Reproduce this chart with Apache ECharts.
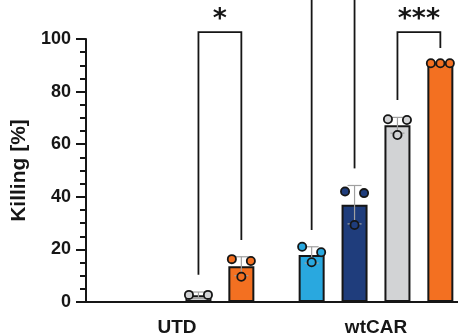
<!DOCTYPE html>
<html><head><meta charset="utf-8">
<script src="https://cdn.jsdelivr.net/npm/echarts@6/dist/echarts.min.js"></script>
<style>html,body{margin:0;padding:0;background:#fff}#c{width:458px;height:335px}</style>
</head><body><div id="c"></div>
<script>
// ---- data ----
const categories = ['UTD', 'wtCAR'];
const seriesNames = ['Group 1', 'Group 2', 'Group 3', 'Group 4'];
const yTicks = [0, 20, 40, 60, 80, 100];
// bar means (null = no bar)
const group1Mean = [null, 17.9];
const group2Mean = [null, 37.0];
const group3Mean = [2.6, 67.2];
const group4Mean = [13.6, 90.8];
// standard deviations
const group1SD = [null, 3.1];
const group2SD = [null, 7.3];
const group3SD = [1.2, 3.0];
const group4SD = [3.6, 0.3];
// replicate points (left, centre, right)
const group1Reps = [[], [21.0, 15.1, 18.9]];
const group2Reps = [[], [42.0, 29.3, 41.4]];
const group3Reps = [[2.7, null, 2.7], [69.5, 63.5, 69.2]];
const group4Reps = [[16.3, 9.6, 15.6], [90.8, 90.8, 90.8]];
// significance brackets: [category, left slot, right slot, top, left leg bottom, right leg bottom, label]
const brackets = [
  [0, 2, 3, 102.6, 10.4, 23.6, '*'],
  [1, 2, 3, 102.6, 76.8, 96.6, '***']
];
// open bracket legs going above the plot: [category, slot, bottom, top]
const openLegs = [
  [1, 0, 27.4, 130],
  [1, 1, 50.8, 130]
];

// ---- styles ----
const colors = ['#29a8df', '#1f3d7c', '#d2d3d5', '#f37021'];
const BAR_W = 26, BAR_GAP = 0.65;
const SLOT_STEP = BAR_W * (1 + BAR_GAP);
const JIT = 9.5, DOT_R = 4.1, CAP = 7;
const ERR_COLOR = '#a0a0a0';
const INK = '#161616';

const means = [group1Mean, group2Mean, group3Mean, group4Mean];
const sds = [group1SD, group2SD, group3SD, group4SD];
const reps = [group1Reps, group2Reps, group3Reps, group4Reps];

const chart = echarts.init(document.getElementById('c'), null, {renderer: 'canvas'});

function slotX(api, c, s) {
  return api.coord([c, 0])[0] + (s - 1.5) * SLOT_STEP;
}

function renderPoints(params, api) {
  const c = api.value(0), s = api.value(2);
  const cx = slotX(api, c, s);
  const mean = means[s][c], sd = sds[s][c];
  const yTop = api.coord([c, mean + sd])[1];
  const yBot = api.coord([c, Math.max(0, mean - sd)])[1];
  const ls = {stroke: ERR_COLOR, lineWidth: 1.2};
  const children = [
    {type: 'line', shape: {x1: cx, y1: yTop, x2: cx, y2: yBot}, style: ls},
    {type: 'line', shape: {x1: cx - CAP, y1: yTop, x2: cx + CAP, y2: yTop}, style: ls},
    {type: 'line', shape: {x1: cx - CAP, y1: yBot, x2: cx + CAP, y2: yBot}, style: ls}
  ];
  reps[s][c].forEach((v, i) => {
    if (v == null) return;
    const y = api.coord([c, v])[1];
    children.push({type: 'circle', shape: {cx: cx + (i - 1) * JIT, cy: y, r: DOT_R},
      style: {fill: colors[s], stroke: INK, lineWidth: 1.8}});
  });
  return {type: 'group', children};
}

function renderBrackets(params, api) {
  const b = brackets[api.value(2)];
  const c = b[0];
  const xl = slotX(api, c, b[1]), xr = slotX(api, c, b[2]);
  const yt = api.coord([c, b[3]])[1];
  const yl = api.coord([c, b[4]])[1], yr = api.coord([c, b[5]])[1];
  return {type: 'group', children: [
    {type: 'polyline', shape: {points: [[xl, yl], [xl, yt], [xr, yt], [xr, yr]]},
      style: {stroke: INK, lineWidth: 1.8, fill: null}},
    {type: 'text', style: {text: b[6], x: (xl + xr) / 2, y: yt - 12, align: 'center', verticalAlign: 'middle',
      font: 'bold 27px "DejaVu Sans"', fill: INK}}
  ]};
}

function renderLegs(params, api) {
  const l = openLegs[api.value(2)];
  const x = slotX(api, l[0], l[1]);
  return {type: 'line', shape: {x1: x, y1: api.coord([l[0], l[2]])[1], x2: x, y2: api.coord([l[0], l[3]])[1]},
    style: {stroke: INK, lineWidth: 1.8}};
}

const pointData = [];
means.forEach((m, s) => m.forEach((v, c) => { if (v != null) pointData.push([c, v, s]); }));

const series = means.map((m, s) => ({
  name: seriesNames[s], type: 'bar', data: m.map(v => v == null ? '-' : v),
  barWidth: BAR_W, barGap: (BAR_GAP * 100) + '%', z: 2, silent: true,
  itemStyle: {color: colors[s], borderColor: INK, borderWidth: 2}
}));
series.push({type: 'custom', renderItem: renderPoints, data: pointData, encode: {x: 0, y: 1}, z: 3, clip: false, silent: true});
series.push({type: 'custom', renderItem: renderBrackets, data: brackets.map((b, i) => [b[0], b[3], i]), encode: {x: 0, y: 1}, z: 4, clip: false, silent: true});
series.push({type: 'custom', renderItem: renderLegs, data: openLegs.map((l, i) => [l[0], l[2], i]), encode: {x: 0, y: 1}, z: 4, clip: false, silent: true});

chart.setOption({
  animation: false,
  grid: {left: 77.5, right: -17.5, top: 39, bottom: 33, containLabel: false, outerBoundsMode: 'none'},
  xAxis: {
    type: 'category', data: categories,
    axisLine: {lineStyle: {color: INK, width: 2}},
    axisTick: {alignWithLabel: true, length: 10, lineStyle: {color: INK, width: 2}},
    axisLabel: {margin: 16, color: INK, fontSize: 19, fontWeight: 'bold', fontFamily: 'Liberation Sans'}
  },
  yAxis: {
    type: 'value', min: yTicks[0], max: yTicks[yTicks.length - 1], interval: yTicks[1] - yTicks[0],
    offset: -8.5,
    name: 'Killing [%]', nameLocation: 'middle', nameGap: 54,
    nameTextStyle: {color: INK, fontSize: 21, fontWeight: 'bold', fontFamily: 'Liberation Sans'},
    axisLine: {show: true, lineStyle: {color: INK, width: 2}},
    axisTick: {show: true, length: 10, lineStyle: {color: INK, width: 2}},
    minorTick: {show: true, splitNumber: 4, length: 6, lineStyle: {color: INK, width: 2}},
    splitLine: {show: false},
    axisLabel: {margin: 15, color: INK, fontSize: 18, fontWeight: 'bold', fontFamily: 'Liberation Sans'}
  },
  series
});
</script></body></html>
